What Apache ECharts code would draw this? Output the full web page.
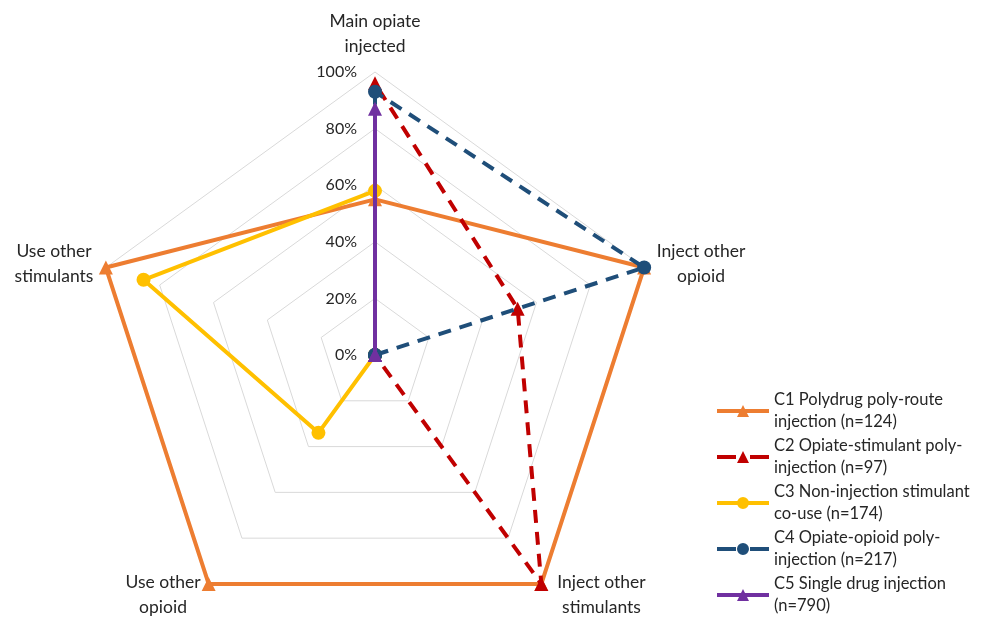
<!DOCTYPE html>
<html>
<head>
<meta charset="utf-8">
<script src="https://cdn.jsdelivr.net/npm/echarts@6/dist/echarts.min.js"></script>
<style>html,body{margin:0;padding:0;background:#fff;}#chart{width:988px;height:617px;}</style>
</head>
<body>
<div id="chart"></div>
<script>
// Indicators in ECharts order (counter-clockwise from top)
const indicators = ['Main opiate injected', 'Use other stimulants', 'Use other opioid', 'Inject other stimulants', 'Inject other opioid'];
const indicatorLines = [
  ['Main opiate', 'injected'],
  ['Use other', 'stimulants'],
  ['Use other', 'opioid'],
  ['Inject other', 'stimulants'],
  ['Inject other', 'opioid']
];
const seriesNames = [
  'C1 Polydrug poly-route\ninjection (n=124)',
  'C2 Opiate-stimulant poly-\ninjection (n=97)',
  'C3 Non-injection stimulant\nco-use (n=174)',
  'C4 Opiate-opioid poly-\ninjection (n=217)',
  'C5 Single drug injection\n(n=790)'
];
const c1 = [55, 100, 100, 100, 100];
const c2 = [96, 0, 0, 100, 53];
const c3 = [58, 86, 34, 0, 0];
const c4 = [93, 0, 0, 0, 100];
const c5 = [87, 0, 0, 0, 0];

const colors = ['#ED7D31', '#C00000', '#FFC000', '#1F4E79', '#7030A0'];
const symbols = ['triangle', 'triangle', 'circle', 'circle', 'triangle'];
const dashed = [false, true, false, true, false];
const values = [c1, c2, c3, c4, c5];

const triSolid = 'path://M0,5H52V9H0Z M26,1L32,13L20,13Z';
const triDash = 'path://M0,5H19V9H0Z M33,5H52V9H33Z M26,1L32,13L20,13Z';
const cirSolid = 'path://M0,5H52V9H0Z M20,7A6,6 0 1,1 32,7A6,6 0 1,1 20,7Z';
const cirDash = 'path://M0,5H19V9H0Z M33,5H52V9H33Z M20,7A6,6 0 1,1 32,7A6,6 0 1,1 20,7Z';
const legendIcons = [triSolid, triDash, cirSolid, cirDash, triSolid];

const NAME_FONT = 17.5;
const cv = document.createElement('canvas').getContext('2d');
cv.font = NAME_FONT + 'px Lato';
const rich = {};
indicatorLines.forEach((l, i) => {
  const w = Math.ceil(Math.max(cv.measureText(l[0]).width, cv.measureText(l[1]).width));
  rich['s' + i] = {
    width: w, align: 'center', fontSize: NAME_FONT, lineHeight: 25, color: '#262626', fontFamily: 'Lato',
    padding: i === 3 ? [0, 0, 0, 8] : (i === 2 ? [0, 0, 0, 0] : 0)
  };
});

const chart = echarts.init(document.getElementById('chart'), null, {renderer: 'canvas'});

const series = values.map((v, i) => ({
  type: 'radar',
  name: seriesNames[i],
  z: 2 + i,
  symbol: symbols[i],
  symbolSize: 14,
  lineStyle: {color: colors[i], width: 4, type: dashed[i] ? [13, 9] : 'solid'},
  itemStyle: {color: colors[i]},
  data: [{name: seriesNames[i], value: v}]
}));

chart.setOption({
  animation: false,
  color: colors,
  textStyle: {fontFamily: 'Lato'},
  legend: {
    orient: 'vertical',
    left: 712,
    top: 373,
    height: 300,
    itemWidth: 52,
    itemHeight: 14,
    itemGap: -20,
    data: seriesNames.map((n, i) => ({name: n, icon: legendIcons[i]})),
    textStyle: {fontSize: 16.5, color: '#262626', lineHeight: 22, padding: [22, 0, 0, 0], fontFamily: 'Lato'}
  },
  polar: {center: [375, 355], radius: 283},
  angleAxis: {show: false, startAngle: 90, min: 0, max: 360},
  radiusAxis: {
    min: 0, max: 100, interval: 20,
    axisLine: {show: false}, axisTick: {show: false}, splitLine: {show: false},
    axisLabel: {formatter: '{value}%', fontSize: 16, color: '#262626', margin: 18, fontFamily: 'Lato'}
  },
  radar: {
    center: [375, 355],
    radius: 283,
    startAngle: 90,
    shape: 'polygon',
    splitNumber: 5,
    indicator: indicators.map(n => ({name: n, min: 0, max: 100})),
    axisLine: {show: false},
    axisTick: {show: false},
    splitArea: {show: false},
    splitLine: {lineStyle: {color: '#D9D9D9', width: 1}},
    nameGap: 13,
    axisName: {
      color: '#262626',
      fontSize: NAME_FONT,
      fontFamily: 'Lato',
      formatter: function (name) {
        const i = indicators.indexOf(name);
        const l = indicatorLines[i];
        return '{s' + i + '|' + l[0] + '}\n{s' + i + '|' + l[1] + '}';
      },
      rich: rich
    }
  },
  series: series
});
</script>
</body>
</html>
